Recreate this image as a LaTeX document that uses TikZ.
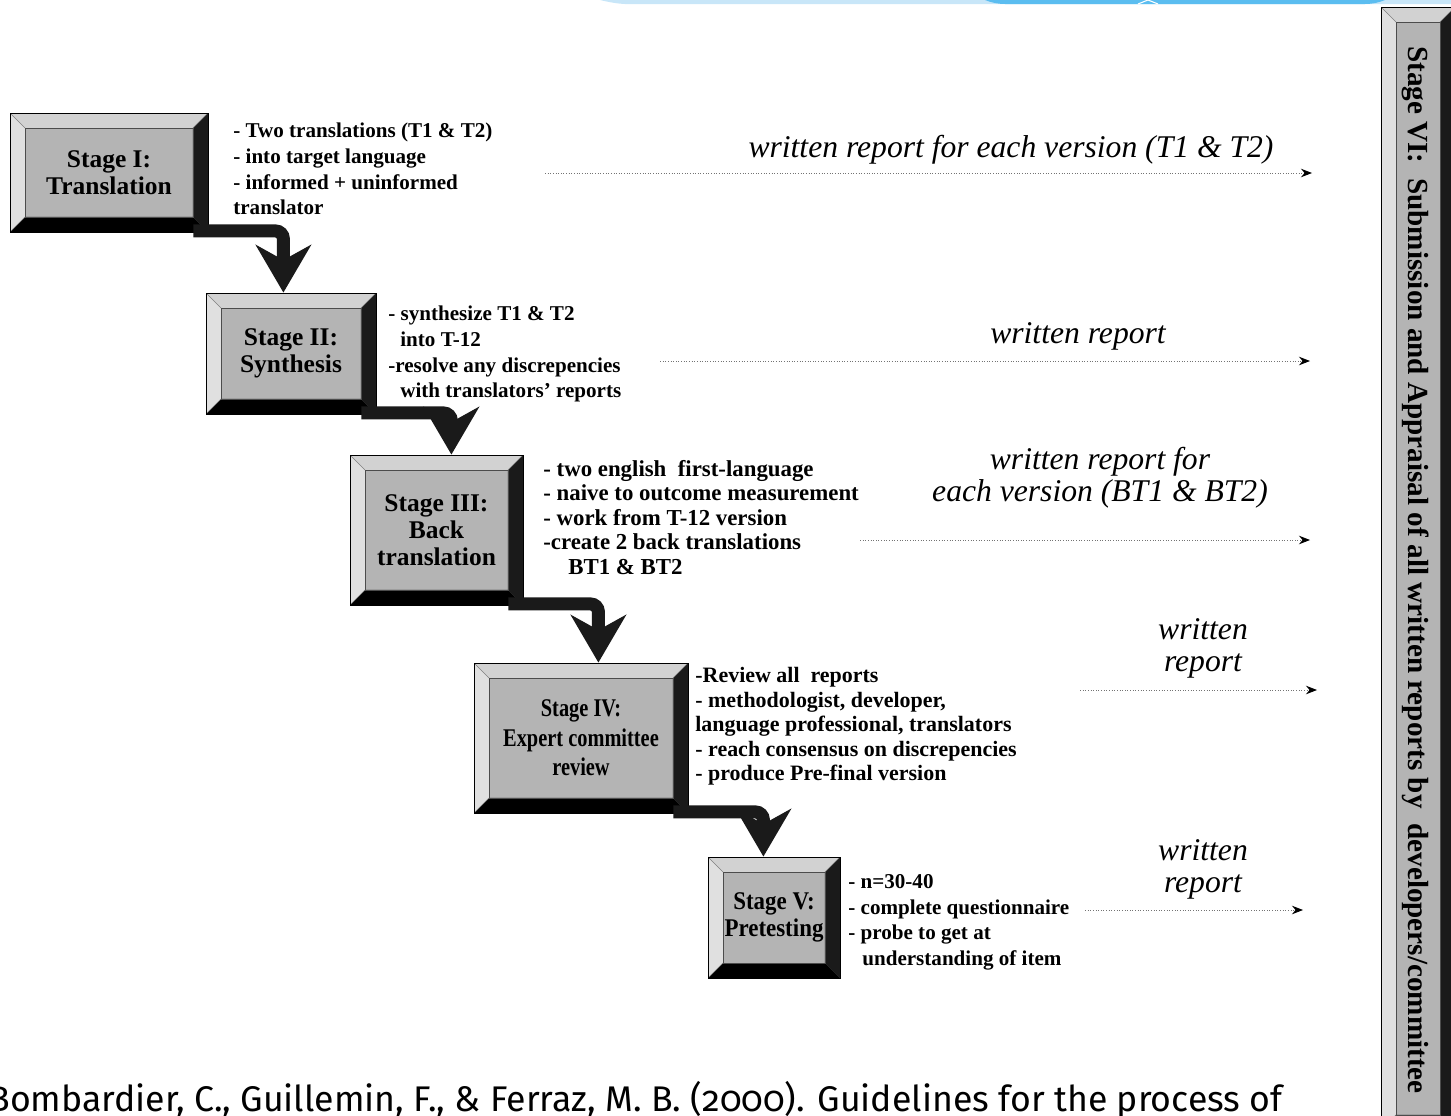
\documentclass[tikz,border=0pt]{standalone}
\usepackage{fontspec}
\setmainfont{Liberation Serif}
\newfontfamily\narrowserif[FakeStretch=0.8]{Liberation Serif}
\newfontfamily\slimserif[FakeStretch=0.9]{Liberation Serif}
\newfontfamily\citefont[Numbers=OldStyle]{Fira Sans}
\usetikzlibrary{arrows.meta}

\definecolor{facegray}{HTML}{B4B4B4}
\definecolor{lightbevel}{HTML}{E0E0E0}
\definecolor{topbevel}{HTML}{D2D2D2}
\definecolor{darkbevel}{HTML}{1A1A1A}
\definecolor{slideblue}{HTML}{5BBDF0}
\definecolor{slidepale}{HTML}{C8E6F8}

\tikzset{
	stagebox/.style={draw=black, line width=0.5pt, fill=facegray, align=center, inner sep=0pt,
		font=\fontsize{14.5}{15.5}\selectfont\bfseries,
		path picture={
			\path (path picture bounding box.north west) coordinate (pnw) ++(0.3cm,-0.3cm) coordinate (qnw);
			\path (path picture bounding box.north east) coordinate (pne) ++(-0.3cm,-0.3cm) coordinate (qne);
			\path (path picture bounding box.south west) coordinate (psw) ++(0.3cm,0.3cm) coordinate (qsw);
			\path (path picture bounding box.south east) coordinate (pse) ++(-0.3cm,0.3cm) coordinate (qse);
			\fill[topbevel] (pnw) -- (pne) -- (qne) -- (qnw) -- cycle;
			\fill[lightbevel] (pnw) -- (qnw) -- (qsw) -- (psw) -- cycle;
			\fill[darkbevel] (pne) -- (qne) -- (qse) -- (pse) -- cycle;
			\fill[black] (psw) -- (qsw) -- (qse) -- (pse) -- cycle;
			\draw[black!70, line width=0.4pt] (qnw) rectangle (qse);
			\draw[black!50, line width=0.3pt] (pnw) -- (qnw) (pne) -- (qne) (psw) -- (qsw);
		}},
	bullets/.style={font=\fontsize{12}{14.6}\selectfont\bfseries, align=left, anchor=north west, inner sep=0pt},
	report/.style={font=\fontsize{18}{18.2}\selectfont\itshape, align=center, inner sep=0pt},
	flow/.style={line width=0.26cm, draw=darkbevel, rounded corners=0.16cm,
		-{Stealth[length=0.95cm, width=1.1cm, inset=0.3cm]}},
	feed/.style={densely dotted, draw=black!55, line width=0.5pt,
		-{Stealth[black, length=0.22cm, width=0.17cm]}}
}

\begin{document}
\begin{tikzpicture}[x=0.02cm, y=0.02cm]
	\useasboundingbox (0,0) rectangle (1451,-1116);
	\clip (0,0) rectangle (1451,-1116);
	
	% slide decoration at the top edge
	\fill[slidepale] (600,0) -- (1451,0) -- (1451,-4) -- (640,-4) to[bend left=8] cycle;
	\fill[slideblue] (985,0) -- (1385,0) to[bend left=10] (1365,-4) -- (1005,-4) to[bend left=10] cycle;
	\draw[white, line width=0.6pt] (1138,-4) -- (1148,0) -- (1158,-4);
	
	% stages
	\node[stagebox, minimum width=3.96cm, minimum height=2.38cm] (s1) at (109,-172.5) {Stage I:\\Translation};
	\node[stagebox, minimum width=3.4cm, minimum height=2.42cm] (s2) at (291,-353.5) {Stage II:\\Synthesis};
	\node[stagebox, minimum width=3.46cm, minimum height=3cm] (s3) at (436.5,-530) {Stage III:\\Back\\translation};
	\node[stagebox, minimum width=4.28cm, minimum height=3cm, font=\narrowserif\fontsize{14.5}{16.8}\selectfont\bfseries] (s4) at (581,-738) {Stage IV:\\Expert committee\\review};
	\node[stagebox, minimum width=2.64cm, minimum height=2.42cm, font=\slimserif\fontsize{14.5}{15.5}\selectfont\bfseries] (s5) at (774,-917.5) {Stage V:\\Pretesting};
	\node[stagebox, minimum width=1.48cm, minimum height=22.46cm] (s6) at (1418,-568.5) {};
	\node[rotate=-90, font=\fontsize{16.6}{18}\selectfont\bfseries] (s6text) at (1416,-570)
		{Stage VI:\ \ Submission and Appraisal of all written reports by\ \ developers/committee};
	
	% thick connectors
	\foreach \a/\b in {1/2, 2/3, 3/4, 4/5}
	{
		\path (s\a.south east) ++(1.5cm,0) coordinate (k\a);
		\draw[flow] ([shift={(-0.3cm,0.03cm)}]s\a.south east) -| (k\a |- s\b.north);
	}
	
	% notes
	\node[bullets] (b1) at (233,-123) {- Two translations (T1 \& T2)\\- into target language\\- informed + uninformed\\translator};
	\node[bullets] (b2) at (388,-306) {- synthesize T1 \& T2\\\hspace*{0.24cm}into T-12\\-resolve any discrepencies\\\hspace*{0.24cm}with translators' reports};
	\node[bullets, font=\fontsize{13}{13.9}\selectfont\bfseries] (b3) at (543,-460) {- two english\ \ first-language\\- naive to outcome measurement\\- work from T-12 version\\-create 2 back translations\\\hspace*{0.5cm}BT1 \& BT2};
	\node[bullets, font=\fontsize{12.5}{14}\selectfont\bfseries] (b4) at (695,-667) {-Review all\ \ reports\\- methodologist, developer,\\language professional, translators\\- reach consensus on discrepencies\\- produce Pre-final version};
	\node[bullets] (b5) at (848,-874) {- n=30-40\\- complete questionnaire\\- probe to get at\\\hspace*{0.28cm}understanding of item};
	
	% written reports
	\node[report] (r1) at (1011,-150) {written report for each version (T1 \& T2)};
	\node[report] (r2) at (1078,-336) {written report};
	\node[report] (r3) at (1100,-478) {written report for\\each version (BT1 \& BT2)};
	\node[report] (r4) at (1203,-648) {written\\report};
	\node[report] (r5) at (1203,-869) {written\\report};
	
	\foreach \n/\xa/\xb/\y in {1/545/1312/173, 2/660/1310/361, 3/860/1310/540, 4/1080/1317/690, 5/1085/1303/910}
	{
		\coordinate (f\n a) at (\xa,-\y);
		\coordinate (f\n b) at (\xb,-\y);
		\draw[feed] (f\n a) -- (f\n b);
	}
	
	\node[anchor=base west, inner sep=0pt, font=\citefont\fontsize{20.3}{22}\selectfont] (cite) at (-12,-1111)
		{Bombardier, C., Guillemin, F., \& Ferraz, M. B. (2000). Guidelines for the process of};
	
\end{tikzpicture}
\end{document}
